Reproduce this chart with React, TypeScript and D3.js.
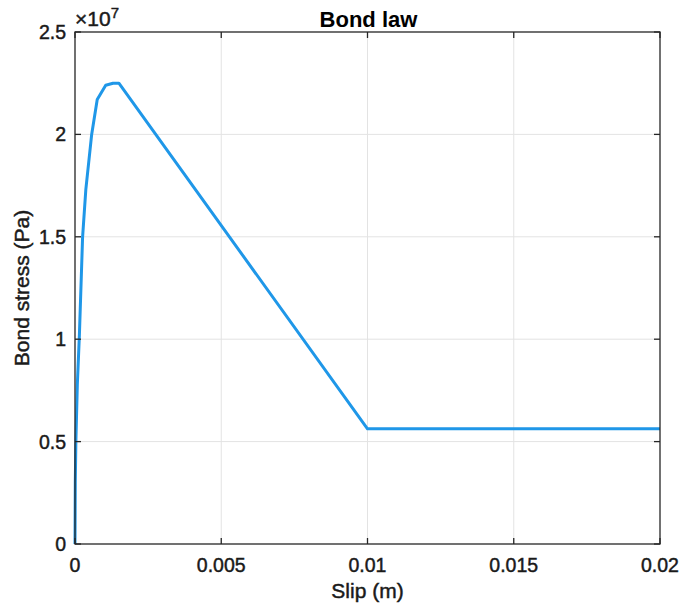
import React from "react";
import * as d3 from "d3";

const slip = [0, 0.00001, 0.00003, 0.00008, 0.00015, 0.00026, 0.00037, 0.00057, 0.00076, 0.00105, 0.0013, 0.0015, 0.01, 0.02];
const stress = [0, 0.3e7, 0.5e7, 0.78e7, 1.02e7, 1.5e7, 1.73e7, 2.0e7, 2.17e7, 2.24e7, 2.25e7, 2.25e7, 0.5625e7, 0.5625e7];
const xTicks = [0, 0.005, 0.01, 0.015, 0.02];
const xTickLabels = ["0", "0.005", "0.01", "0.015", "0.02"];
const yTicks = [0, 0.5e7, 1e7, 1.5e7, 2e7, 2.5e7];
const yTickLabels = ["0", "0.5", "1", "1.5", "2", "2.5"];

const W = 693, H = 613;
const L = 75, R = 660, T = 32, B = 544;
const font = "'Liberation Sans', Arial, Helvetica, sans-serif";
const axisColor = "#262626";
const textColor = "#1a1a1a";
const ts = { stroke: textColor, strokeWidth: 0.45 };

export default function App() {
  const x = d3.scaleLinear().domain([0, 0.02]).range([L, R]);
  const y = d3.scaleLinear().domain([0, 2.5e7]).range([B, T]);
  const pts = slip.map((s, i) => [s, stress[i]] as [number, number]);
  const line = d3.line<[number, number]>().x(d => x(d[0])).y(d => y(d[1]));
  const tl = 6;
  return (
    <svg width={W} height={H} style={{ position: "absolute", left: 0, top: 0, background: "#fff" }} fontFamily={font}>
      <rect x={0} y={0} width={W} height={H} fill="#fff" />
      {xTicks.slice(1, -1).map((t, i) => (
        <line key={"gx" + i} x1={x(t)} x2={x(t)} y1={T} y2={B} stroke="#e3e3e3" strokeWidth={1} />
      ))}
      {yTicks.slice(1, -1).map((t, i) => (
        <line key={"gy" + i} x1={L} x2={R} y1={y(t)} y2={y(t)} stroke="#e3e3e3" strokeWidth={1} />
      ))}
      <path d={line(pts) || ""} fill="none" stroke="#1f97e8" strokeWidth={3} strokeLinejoin="round" />
      <rect x={L} y={T} width={R - L} height={B - T} fill="none" stroke={axisColor} strokeWidth={1.3} />
      {xTicks.map((t, i) => (
        <g key={"xt" + i}>
          <line x1={x(t)} x2={x(t)} y1={B} y2={B - tl} stroke={axisColor} strokeWidth={1.3} />
          <line x1={x(t)} x2={x(t)} y1={T} y2={T + tl} stroke={axisColor} strokeWidth={1.3} />
          <text x={x(t)} y={572} textAnchor="middle" fontSize={19.5} fill={textColor} {...ts}>{xTickLabels[i]}</text>
        </g>
      ))}
      {yTicks.map((t, i) => (
        <g key={"yt" + i}>
          <line x1={L} x2={L + tl} y1={y(t)} y2={y(t)} stroke={axisColor} strokeWidth={1.3} />
          <line x1={R} x2={R - tl} y1={y(t)} y2={y(t)} stroke={axisColor} strokeWidth={1.3} />
          <text x={66} y={y(t)} dy="0.36em" textAnchor="end" fontSize={19.5} fill={textColor} {...ts}>{yTickLabels[i]}</text>
        </g>
      ))}
      <text x={75} y={26} fontSize={21} fill={textColor} {...ts}>
        <tspan>×10</tspan>
        <tspan fontSize={15} dy={-8}>7</tspan>
      </text>
      <text x={(L + R) / 2 + 1} y={27} textAnchor="middle" fontSize={22} fontWeight="bold" fill="#000">Bond law</text>
      <text x={(L + R) / 2} y={598} textAnchor="middle" fontSize={21} fill={textColor} {...ts}>Slip (m)</text>
      <text transform={`translate(29,${(T + B) / 2}) rotate(-90)`} textAnchor="middle" fontSize={21} fill={textColor} {...ts}>Bond stress (Pa)</text>
    </svg>
  );
}
